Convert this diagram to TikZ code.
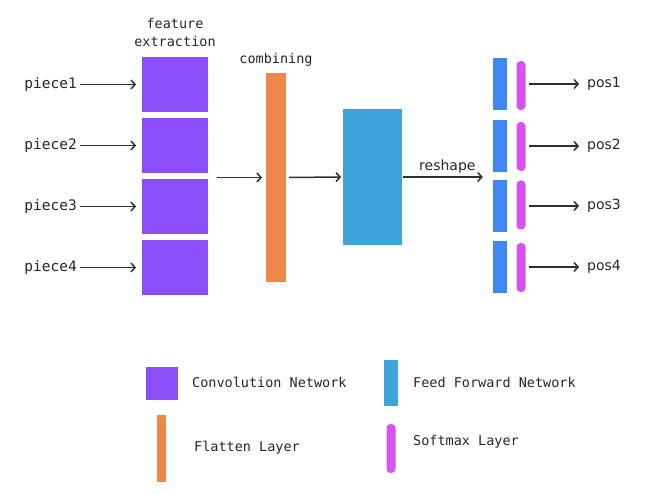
\documentclass[tikz,border=0pt]{standalone}
\usepackage{fontspec}
\setmainfont{DejaVu Sans}
\setmonofont{DejaVu Sans Mono}
\usepackage{tikz}
\usetikzlibrary{arrows.meta,positioning,fit}

\definecolor{convcol}{HTML}{8A4DF8}
\definecolor{flatcol}{HTML}{F0874A}
\definecolor{ffncol}{HTML}{3FA4D8}
\definecolor{outcol}{HTML}{3D88F4}
\definecolor{softcol}{HTML}{D653F2}
\definecolor{linecol}{HTML}{303030}

\begin{document}
\begin{tikzpicture}[
    x=1pt, y=-1pt,
    lbl/.style={font=\ttfamily\fontsize{13.5}{18}\selectfont, text=black!85, inner sep=2pt, align=center},
    inlbl/.style={font=\ttfamily\fontsize{14.5}{17}\selectfont, text=black!85, inner sep=2pt},
    outlbl/.style={font=\fontsize{14}{17}\selectfont, text=black!85, inner sep=2pt},
    blk/.style={inner sep=0pt, outer sep=0pt, draw=none},
    conv/.style={blk, fill=convcol, minimum width=66pt, minimum height=55pt},
    flat/.style={blk, fill=flatcol, minimum width=20pt, minimum height=209pt},
    ffn/.style={blk, fill=ffncol, minimum width=59pt, minimum height=136pt},
    outbar/.style={blk, fill=outcol, minimum width=14pt, minimum height=52pt},
    soft/.style={blk, fill=softcol, rounded corners=4pt, minimum width=9pt, minimum height=49pt},
    arr/.style={-{Straight Barb[length=4pt,width=9pt]}, line width=1.5pt, draw=linecol},
    ]
\useasboundingbox (0,0) rectangle (646,494);

% inputs and convolution blocks
\foreach \i/\y in {1/84.5,2/145.5,3/206.5,4/267.5}{
  \node[conv] (c\i) at (175,\y) {};
  \node[inlbl, anchor=east] (p\i) at (79,\y) {piece\i};
  \draw[arr, shorten >=6pt, shorten <=1pt] (p\i.east) -- (c\i.west);
}
\node[inner sep=0pt, fit=(c1)(c4)] (convall) {};
\node[lbl, above=8pt of c1] (fe) {feature\\extraction};

% flatten + feed forward
\node[flat] (fl) at (276,177.5) {};
\node[lbl, above=4pt of fl] (comb) {combining};
\node[ffn] (ff) at (372.5,177) {};

% outputs
\foreach \i/\y/\s in {1/84/85.5,2/146/146.5,3/206/205,4/267/267.5}{
  \node[outbar] (o\i) at (500,\y) {};
  \node[soft] (s\i) at (521,\s) {};
  \node[outlbl, anchor=west] (q\i) at (585,\y) {pos\i};
  \draw[arr, shorten <=3pt, shorten >=6pt] (s\i.east |- q\i.west) -- (q\i.west);
}
\node[inner sep=0pt, fit=(o1)(o4)] (outall) {};

\draw[arr, shorten <=9pt, shorten >=4pt] (convall.east |- fl.west) -- (fl.west);
\draw[arr, shorten <=3pt, shorten >=2pt] (fl.east) -- (ff.west);
\draw[arr, shorten <=1pt, shorten >=10pt] (ff.east) -- node[outlbl, above=1pt] (rs) {reshape} (ff.east -| outall.west);

% legend
\node[blk, fill=convcol, minimum width=32pt, minimum height=33pt] (lc) at (162,383.5) {};
\node[lbl, anchor=west] (lct) at (190,382) {Convolution Network};
\node[blk, fill=ffncol, minimum width=14pt, minimum height=46pt] (lf) at (391,383) {};
\node[lbl, anchor=west] (lft) at (411,382) {Feed Forward Network};
\node[blk, fill=flatcol, minimum width=9pt, minimum height=67pt] (ll) at (161.5,448.5) {};
\node[lbl, anchor=west] (llt) at (192,448) {Flatten Layer};
\node[soft] (ls) at (391,448.5) {};
\node[lbl, anchor=west] (lst) at (411,442) {Softmax Layer};
\end{tikzpicture}
\end{document}
